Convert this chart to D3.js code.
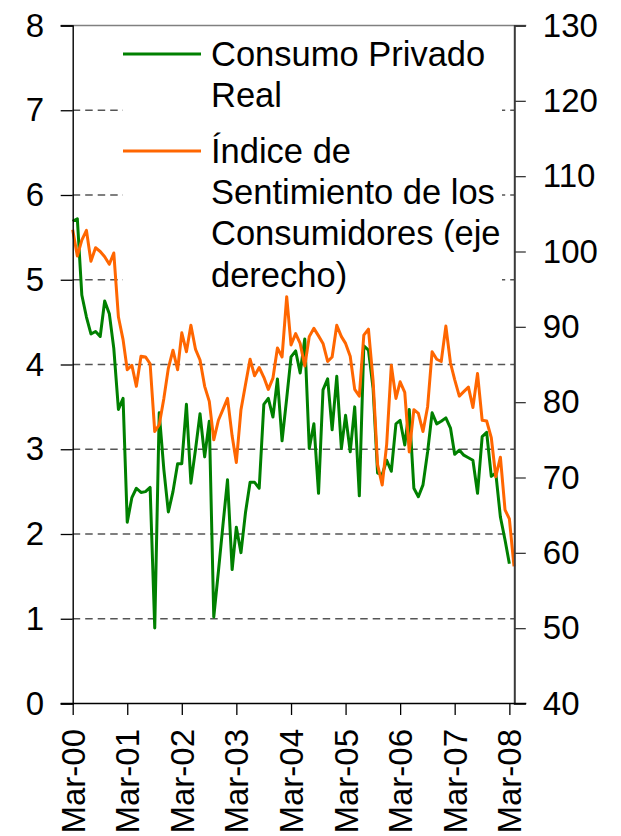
<!DOCTYPE html>
<html>
<head>
<meta charset="utf-8">
<script src="https://cdn.jsdelivr.net/npm/d3@7"></script>
<style>
  html, body { margin: 0; padding: 0; background: #fff; }
  svg { display: block; }
  text { font-family: "Liberation Sans", Arial, sans-serif; fill: #000; }
</style>
</head>
<body>
<svg id="chart" width="621" height="836"></svg>
<script>
// ---- DATA ----
const startMonth = "2000-03";
const tickLabels = ["Mar-00","Mar-01","Mar-02","Mar-03","Mar-04","Mar-05","Mar-06","Mar-07","Mar-08"];
const leftTicks = [0,1,2,3,4,5,6,7,8];
const rightTicks = [40,50,60,70,80,90,100,110,120,130];
const seriesNames = ["Consumo Privado Real", "Índice de Sentimiento de los Consumidores (eje derecho)"];
const legendLines = [["Consumo Privado","Real"],["Índice de","Sentimiento de los","Consumidores (eje","derecho)"]];

// Consumo Privado Real (% , left axis), monthly from Mar-00
const consumo = [
  5.69,5.72,4.82,4.56,4.36,4.39,4.33,4.75,4.60,4.19,
  3.47,3.60,2.14,2.43,2.54,2.49,2.50,2.55,0.89,3.43,
  2.76,2.26,2.50,2.83,2.83,3.53,2.60,3.00,3.42,2.91,
  3.33,1.02,1.56,2.10,2.64,1.58,2.08,1.78,2.25,2.61,
  2.61,2.54,3.53,3.60,3.38,3.83,3.10,3.60,4.09,4.16,
  3.90,4.30,3.01,3.30,2.48,3.70,3.83,3.23,3.86,3.01,
  3.40,2.97,3.50,2.45,4.22,4.17,3.72,2.72,2.70,2.87,
  2.74,3.30,3.34,3.05,3.47,2.54,2.44,2.58,2.97,3.43,
  3.30,3.33,3.37,3.25,2.94,2.99,2.93,2.90,2.87,2.48,
  3.15,3.20,2.68,2.72,2.20,1.93,1.65
];
// Índice de Sentimiento de los Consumidores (right axis), monthly from Mar-00
const sentimiento = [
  102.9,99.4,101.5,102.8,98.7,100.5,100.0,99.3,98.3,99.8,
  91.3,88.3,84.3,84.9,82.1,86.1,86.0,85.1,76.1,77.0,
  80.5,84.5,86.9,84.3,89.2,86.7,90.2,87.0,85.6,82.1,
  80.1,75.0,77.6,79.0,80.5,75.5,72.0,79.0,82.3,85.7,
  83.5,84.6,83.3,81.7,83.2,87.2,86.0,94.0,87.6,89.1,
  87.8,84.8,88.7,89.8,88.8,87.8,85.4,86.0,90.2,88.7,
  87.8,86.1,81.7,80.8,88.9,89.7,82.9,71.7,69.0,74.4,
  84.9,80.5,82.7,81.3,73.4,79.0,78.5,76.1,79.4,86.7,
  85.7,85.4,90.1,85.2,83.0,80.8,81.4,82.0,79.3,83.8,
  77.6,77.5,75.3,70.1,72.7,65.7,64.5,58.2
];

const colors = ["#008000", "#FF6600"];

// ---- LAYOUT ----
const svg = d3.select("#chart");
const plotLeft = 72.7, plotRight = 514.3, plotTop = 25.5, plotBottom = 703.5;
const parseTick = d3.timeParse("%b-%y");
const start = d3.timeParse("%Y-%m")(startMonth);
const monthDate = i => d3.timeMonth.offset(start, i);

const x = d3.scaleTime()
  .domain([start, new Date(2008, 3, 3)])
  .range([plotLeft, plotRight]);
const yL = d3.scaleLinear().domain([0, 8]).range([plotBottom, plotTop]);
const yR = d3.scaleLinear().domain([40, 130]).range([plotBottom, plotTop]);

// gridlines (dashed)
svg.append("g").selectAll("line")
  .data(leftTicks.filter(d => d > 0 && d < 8))
  .join("line")
  .attr("x1", plotLeft).attr("x2", plotRight)
  .attr("y1", d => yL(d)).attr("y2", d => yL(d))
  .attr("stroke", "#555").attr("stroke-width", 1.3)
  .attr("stroke-dasharray", "7.5,5");

// top border line
svg.append("line")
  .attr("x1", plotLeft - 12).attr("x2", plotRight + 12)
  .attr("y1", yL(8)).attr("y2", yL(8))
  .attr("stroke", "#808080").attr("stroke-width", 1.5);

// lines
const lineL = d3.line().x((d, i) => x(monthDate(i))).y(d => yL(d));
const lineR = d3.line().x((d, i) => x(monthDate(i))).y(d => yR(d));

svg.append("path").datum(consumo)
  .attr("d", lineL).attr("fill", "none")
  .attr("stroke", colors[0]).attr("stroke-width", 3).attr("stroke-linejoin", "round");
svg.append("path").datum(sentimiento)
  .attr("d", lineR).attr("fill", "none")
  .attr("stroke", colors[1]).attr("stroke-width", 3).attr("stroke-linejoin", "round");

// left axis
const gL = svg.append("g").attr("transform", `translate(${plotLeft},0)`)
  .call(d3.axisLeft(yL).tickValues(leftTicks).tickFormat(d3.format("d")).tickSize(12).tickPadding(16.5));
gL.select(".domain").attr("stroke", "#000").attr("stroke-width", 1.4);
gL.selectAll(".tick line").attr("stroke", "#000").attr("stroke-width", 1.3);
gL.selectAll(".tick text").attr("font-size", 33).attr("font-family", "Liberation Sans, Arial, sans-serif").attr("fill", "#000");

// right axis
const gR = svg.append("g").attr("transform", `translate(${plotRight},0)`)
  .call(d3.axisRight(yR).tickValues(rightTicks).tickFormat(d3.format("d")).tickSize(11.5).tickPadding(17));
gR.select(".domain").attr("stroke", "#3a3a3a").attr("stroke-width", 2);
gR.selectAll(".tick line").attr("stroke", "#3a3a3a").attr("stroke-width", 1.3);
gR.selectAll(".tick text").attr("font-size", 33).attr("font-family", "Liberation Sans, Arial, sans-serif").attr("fill", "#000");

// bottom axis
const tickDates = tickLabels.map(parseTick);
const gB = svg.append("g").attr("transform", `translate(0,${plotBottom})`)
  .call(d3.axisBottom(x).tickValues(tickDates).tickFormat((d, i) => tickLabels[i]).tickSize(11.5));
gB.select(".domain").attr("stroke", "#000").attr("stroke-width", 1.4)
  .attr("d", `M${plotLeft - 12},0H${plotRight + 12}`);
gB.selectAll(".tick line").attr("stroke", "#000").attr("stroke-width", 1.3);
gB.selectAll(".tick text")
  .attr("font-size", 33).attr("font-family", "Liberation Sans, Arial, sans-serif").attr("fill", "#000")
  .attr("transform", "rotate(-90)")
  .attr("text-anchor", "end")
  .attr("x", -25.5).attr("y", 0).attr("dy", "0.35em");

// legend
const lg = svg.append("g");
lg.append("rect").attr("x", 123).attr("y", 27).attr("width", 379).attr("height", 264).attr("fill", "#fff");
const entryTop = [66, 162.7];
const sampleY = [54, 151];
const lineH = 41.3;
legendLines.forEach((lines, k) => {
  lg.append("line").attr("x1", 123).attr("x2", 201)
    .attr("y1", sampleY[k]).attr("y2", sampleY[k])
    .attr("stroke", colors[k]).attr("stroke-width", 3);
  const t = lg.append("text").attr("font-size", 34.5).attr("x", 211).attr("y", entryTop[k]);
  lines.forEach((s, j) => {
    t.append("tspan").attr("x", 211).attr("y", entryTop[k] + j * lineH).text(s);
  });
});
</script>
</body>
</html>
